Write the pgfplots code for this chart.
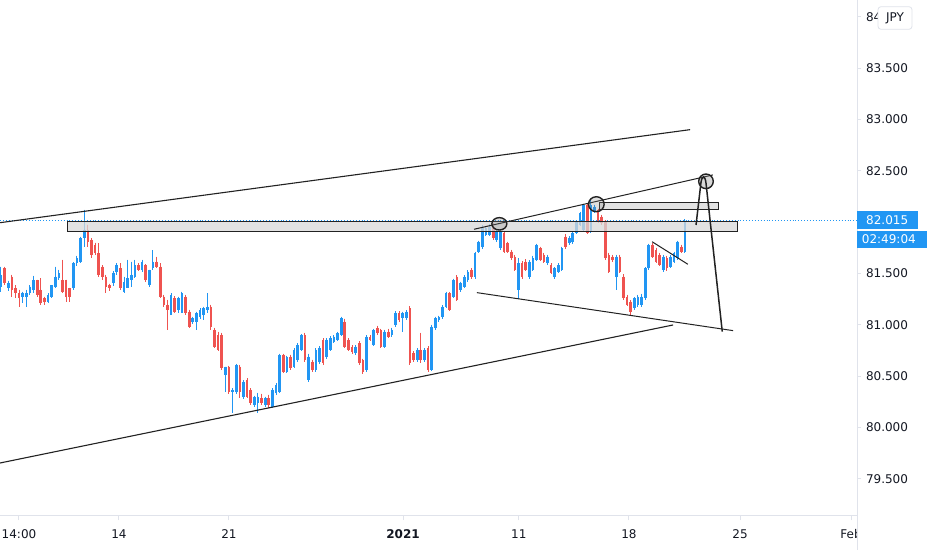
\documentclass[border=0pt]{standalone}
\usepackage{fontspec}
\setmainfont{DejaVu Sans}
\usepackage{pgfplots}
\usepackage{pgfplotstable}
\pgfplotsset{compat=1.18}
\definecolor{upc}{HTML}{2196F3}
\definecolor{dnc}{HTML}{EF5350}
\definecolor{axg}{HTML}{E0E3EB}
\definecolor{txt}{HTML}{131722}
\definecolor{drw}{HTML}{222222}
\definecolor{bandfill}{HTML}{D9D9D9}

\pgfplotstableread{
i o h l c
0 81.371 81.566 81.322 81.485
1 81.550 81.566 81.387 81.404
2 81.355 81.430 81.330 81.404
3 81.468 81.485 81.273 81.339
4 81.355 81.387 81.258 81.306
5 81.306 81.339 81.176 81.258
6 81.273 81.322 81.209 81.306
7 81.273 81.339 81.176 81.306
8 81.306 81.387 81.290 81.371
9 81.339 81.475 81.306 81.436
10 81.436 81.440 81.273 81.290
11 81.339 81.453 81.193 81.209
12 81.258 81.273 81.193 81.225
13 81.225 81.306 81.209 81.290
14 81.273 81.387 81.258 81.387
15 81.371 81.566 81.355 81.468
16 81.453 81.534 81.436 81.501
17 81.436 81.631 81.306 81.322
18 81.436 81.440 81.225 81.273
19 81.355 81.360 81.225 81.273
20 81.355 81.610 81.339 81.598
21 81.598 81.670 81.570 81.647
22 81.614 81.858 81.598 81.842
23 81.842 82.118 81.760 81.923
24 81.923 81.972 81.760 81.809
25 81.826 81.842 81.647 81.680
26 81.777 81.800 81.680 81.696
27 81.696 81.793 81.468 81.485
28 81.566 81.582 81.436 81.468
29 81.468 81.485 81.306 81.371
30 81.387 81.400 81.330 81.355
31 81.404 81.520 81.380 81.501
32 81.517 81.598 81.485 81.582
33 81.550 81.598 81.339 81.355
34 81.322 81.468 81.306 81.420
35 81.355 81.631 81.355 81.453
36 81.436 81.614 81.371 81.485
37 81.468 81.631 81.453 81.582
38 81.582 81.600 81.520 81.534
39 81.534 81.631 81.517 81.614
40 81.582 81.590 81.420 81.436
41 81.387 81.534 81.371 81.534
42 81.550 81.728 81.534 81.614
43 81.614 81.660 81.550 81.566
44 81.566 81.598 81.258 81.273
45 81.273 81.290 81.176 81.193
46 81.193 81.242 80.950 81.144
47 81.095 81.306 81.095 81.290
48 81.258 81.280 81.110 81.128
49 81.144 81.273 81.112 81.258
50 81.112 81.322 81.112 81.306
51 81.273 81.290 81.100 81.112
52 81.128 81.144 80.966 80.982
53 81.030 81.080 81.010 81.063
54 81.030 81.128 80.950 81.112
55 81.079 81.160 81.060 81.144
56 81.095 81.176 81.047 81.160
57 81.144 81.306 81.112 81.176
58 81.176 81.193 80.950 80.982
59 80.950 80.970 80.770 80.787
60 80.901 80.930 80.740 80.755
61 80.901 80.920 80.560 80.577
62 80.511 80.592 80.349 80.592
63 80.592 80.600 80.330 80.349
64 80.349 80.380 80.138 80.365
65 80.349 80.620 80.330 80.609
66 80.592 80.610 80.287 80.349
67 80.300 80.460 80.280 80.446
68 80.463 80.480 80.290 80.300
69 80.365 80.380 80.220 80.235
70 80.219 80.310 80.200 80.300
71 80.239 80.336 80.138 80.300
72 80.287 80.330 80.220 80.239
73 80.219 80.300 80.200 80.287
74 80.287 80.320 80.190 80.219
75 80.203 80.380 80.190 80.365
76 80.336 80.430 80.320 80.414
77 80.349 80.720 80.340 80.706
78 80.706 80.720 80.530 80.544
79 80.544 80.700 80.530 80.690
80 80.690 80.710 80.560 80.577
81 80.592 80.770 80.580 80.755
82 80.657 80.820 80.640 80.804
83 80.755 80.910 80.740 80.901
84 80.901 80.920 80.640 80.657
85 80.460 80.720 80.440 80.690
86 80.641 80.660 80.540 80.560
87 80.560 80.770 80.540 80.755
88 80.641 80.790 80.620 80.774
89 80.852 80.870 80.610 80.625
90 80.690 80.870 80.670 80.852
91 80.755 80.890 80.740 80.872
92 80.836 80.900 80.820 80.884
93 80.852 80.930 80.840 80.920
94 80.901 81.080 80.890 81.063
95 81.030 81.060 80.770 80.787
96 80.852 80.870 80.740 80.755
97 80.787 80.800 80.720 80.738
98 80.722 80.800 80.710 80.787
99 80.820 80.840 80.610 80.625
100 80.657 80.670 80.520 80.544
101 80.560 80.900 80.540 80.884
102 80.884 80.900 80.840 80.852
103 80.804 80.960 80.790 80.950
104 80.966 80.990 80.900 80.918
105 80.950 80.960 80.770 80.787
106 80.787 80.950 80.770 80.934
107 80.934 80.960 80.870 80.884
108 80.901 80.970 80.880 80.950
109 80.998 81.130 80.980 81.112
110 81.112 81.130 81.030 81.047
111 81.063 81.128 80.934 81.112
112 81.063 81.140 81.050 81.128
113 81.160 81.180 80.610 80.625
114 80.722 80.740 80.640 80.657
115 80.657 80.770 80.640 80.755
116 80.755 80.920 80.625 80.657
117 80.657 80.770 80.640 80.755
118 80.771 80.790 80.540 80.560
119 80.560 81.000 80.550 80.982
120 80.966 81.080 80.950 81.063
121 81.047 81.090 81.030 81.079
122 81.079 81.190 81.060 81.176
123 81.176 81.320 81.160 81.306
124 81.306 81.320 81.130 81.144
125 81.273 81.450 81.260 81.436
126 81.468 81.480 81.230 81.242
127 81.339 81.420 81.320 81.404
128 81.371 81.480 81.360 81.468
129 81.436 81.530 81.420 81.517
130 81.534 81.550 81.450 81.468
131 81.468 81.710 81.450 81.696
132 81.712 81.820 81.700 81.809
133 81.760 81.970 81.740 81.955
134 81.874 81.960 81.860 81.940
135 81.874 81.980 81.860 81.955
136 81.955 81.990 81.830 81.842
137 81.826 81.920 81.810 81.906
138 81.745 81.920 81.730 81.906
139 81.890 81.910 81.700 81.712
140 81.793 81.810 81.700 81.712
141 81.712 81.730 81.630 81.647
142 81.663 81.680 81.520 81.534
143 81.339 81.650 81.250 81.598
144 81.598 81.620 81.450 81.468
145 81.614 81.640 81.520 81.534
146 81.468 81.630 81.450 81.614
147 81.534 81.670 81.520 81.647
148 81.631 81.790 81.620 81.777
149 81.745 81.760 81.620 81.631
150 81.680 81.700 81.600 81.614
151 81.598 81.680 81.580 81.663
152 81.582 81.600 81.490 81.501
153 81.468 81.560 81.450 81.550
154 81.517 81.600 81.500 81.582
155 81.534 81.760 81.520 81.745
156 81.858 81.880 81.740 81.760
157 81.793 81.860 81.780 81.842
158 81.809 81.900 81.790 81.890
159 81.890 82.020 81.880 82.004
160 81.972 82.100 81.960 82.086
161 81.923 82.180 81.910 82.167
162 82.167 82.180 81.880 81.890
163 81.906 82.215 81.890 82.167
164 82.101 82.170 82.090 82.150
165 82.118 82.130 81.990 82.004
166 82.053 82.070 81.970 81.988
167 82.004 82.020 81.630 81.647
168 81.680 81.700 81.500 81.517
169 81.663 81.680 81.610 81.631
170 81.468 81.680 81.340 81.663
171 81.663 81.680 81.500 81.517
172 81.468 81.490 81.240 81.258
173 81.273 81.290 81.180 81.193
174 81.225 81.240 81.100 81.128
175 81.160 81.270 81.140 81.258
176 81.193 81.290 81.170 81.273
177 81.193 81.300 81.170 81.273
178 81.258 81.560 81.240 81.550
179 81.550 81.790 81.530 81.777
180 81.777 81.800 81.650 81.663
181 81.728 81.750 81.600 81.614
182 81.680 81.700 81.570 81.582
183 81.534 81.680 81.510 81.663
184 81.647 81.670 81.520 81.550
185 81.566 81.680 81.550 81.663
186 81.614 81.710 81.600 81.696
187 81.647 81.820 81.630 81.809
188 81.760 81.780 81.700 81.712
189 81.712 82.030 81.700 82.015
}\candles

\pgfplotsset{
  candle/.style={only marks, mark=*, mark size=0pt,
    mark options={draw=none, fill=none}},
}

\begin{document}
\begin{tikzpicture}
\useasboundingbox (0,0) rectangle (932bp,550bp);
\fill[white] (0,0) rectangle (932bp,550bp);
\begin{axis}[
  at={(0bp,34bp)}, anchor=south west,
  scale only axis, width=857bp, height=516bp,
  xmin=-0.276, xmax=236.53, ymin=79.138, ymax=84.1626,
  separate axis lines,
  axis x line*=bottom, axis y line*=right,
  axis line style={draw=none},
  tick align=outside,
  major tick length=4bp,
  tick style={color=axg, line width=1bp},
  xtick={4.97,32.6,63.0,111.1,143.1,173.5,204.2,234.9},
  xticklabels={14:00,14,21,\textbf{2021},11,18,25,Feb},
  ytick={79.5,80,80.5,81,81.5,82.5,83,83.5,84},
  scaled y ticks=false,
  ticklabel style={font=\fontsize{12bp}{14bp}\selectfont, text=txt},
  xticklabel style={anchor=north, yshift=-6bp},
  yticklabel style={anchor=west, xshift=1.5bp,
    /pgf/number format/.cd, fixed, fixed zerofill, precision=3, assume math mode=true},
]
% current price line
\draw[upc, dotted, line width=0.9bp] (axis cs:-0.276,82.015) -- (axis cs:236.53,82.015);

% up candles: wicks and bodies
\addplot[candle,
  restrict expr to domain={\thisrow{c}-\thisrow{o}}{0:10},
  error bars/.cd, y dir=minus, y explicit, error mark=none,
  error bar style={color=upc, line width=1bp}]
  table[x=i, y=h, y error minus expr=\thisrow{h}-\thisrow{l}] {\candles};
\addplot[candle,
  restrict expr to domain={\thisrow{c}-\thisrow{o}}{0:10},
  error bars/.cd, y dir=minus, y explicit, error mark=none,
  error bar style={color=upc, line width=2.7bp}]
  table[x=i, y=c, y error minus expr=\thisrow{c}-\thisrow{o}] {\candles};
% down candles
\addplot[candle,
  restrict expr to domain={\thisrow{o}-\thisrow{c}}{0.00001:10},
  error bars/.cd, y dir=minus, y explicit, error mark=none,
  error bar style={color=dnc, line width=1bp}]
  table[x=i, y=h, y error minus expr=\thisrow{h}-\thisrow{l}] {\candles};
\addplot[candle,
  restrict expr to domain={\thisrow{o}-\thisrow{c}}{0.00001:10},
  error bars/.cd, y dir=minus, y explicit, error mark=none,
  error bar style={color=dnc, line width=2.7bp}]
  table[x=i, y=o, y error minus expr=\thisrow{o}-\thisrow{c}] {\candles};

% bands
\draw[drw, line width=1bp, fill=bandfill, fill opacity=0.75]
  (axis cs:18.43,81.913) rectangle (axis cs:203.4,82.004);
\draw[drw, line width=1bp, fill=bandfill, fill opacity=0.75]
  (axis cs:165.5,82.118) rectangle (axis cs:198.2,82.193);

% trend lines
\draw[drw, line width=1.1bp] (axis cs:-0.276,81.994) -- (axis cs:190.4,82.90);
\draw[drw, line width=1.1bp] (axis cs:-0.276,79.654) -- (axis cs:185.7,80.998);
\draw[drw, line width=1bp] (axis cs:130.7,81.930) -- (axis cs:196.7,82.459);
\draw[drw, line width=1bp] (axis cs:131.5,81.313) -- (axis cs:202.3,80.943);
\draw[drw, line width=1bp] (axis cs:179.9,81.809) -- (axis cs:189.8,81.589);

% circles
\draw[drw, line width=1.4bp, fill=gray, fill opacity=0.25]
  (axis cs:137.7,81.983) ellipse [x radius=7.5bp, y radius=6.2bp];
\draw[drw, line width=1.4bp, fill=gray, fill opacity=0.25]
  (axis cs:164.5,82.174) ellipse [x radius=7.8bp, y radius=7.5bp];
\draw[drw, line width=1.4bp, fill=gray, fill opacity=0.3]
  (axis cs:194.8,82.397) ellipse [x radius=7.3bp, y radius=7.3bp];

% projected path
\draw[drw, line width=1.5bp] (axis cs:192.05,81.972) -- (axis cs:193.4,82.381)
  .. controls (axis cs:193.7,82.459) and (axis cs:194.5,82.459) .. (axis cs:194.8,82.381)
  -- (axis cs:199.3,80.933);
\end{axis}

% cover the cut-off part of the last date label
\fill[white] (857.5bp,0) rectangle (932bp,33.5bp);
% axis lines
\draw[axg, line width=1bp] (0,34bp) -- (857bp,34bp);
\draw[axg, line width=1bp] (857bp,0) -- (857bp,550bp);

% JPY box
\draw[axg, line width=0.8bp, fill=white, rounded corners=3bp] (878bp,520.7bp) rectangle (912bp,543.3bp);
\node[text=txt, font=\fontsize{12bp}{14bp}\selectfont] at (895bp,532bp) {JPY};

% price label and countdown
\fill[upc] (857bp,320.7bp) rectangle (918bp,339bp);
\node[anchor=west, inner sep=0pt, text=white, font=\fontsize{12bp}{14bp}\selectfont] at (866bp,330bp) {82.015};
\fill[upc] (857bp,301.7bp) rectangle (927bp,319.3bp);
\node[anchor=west, inner sep=0pt, text=white, font=\fontsize{12bp}{14bp}\selectfont] at (861.7bp,310.5bp) {02:49:04};
\end{tikzpicture}
\end{document}
